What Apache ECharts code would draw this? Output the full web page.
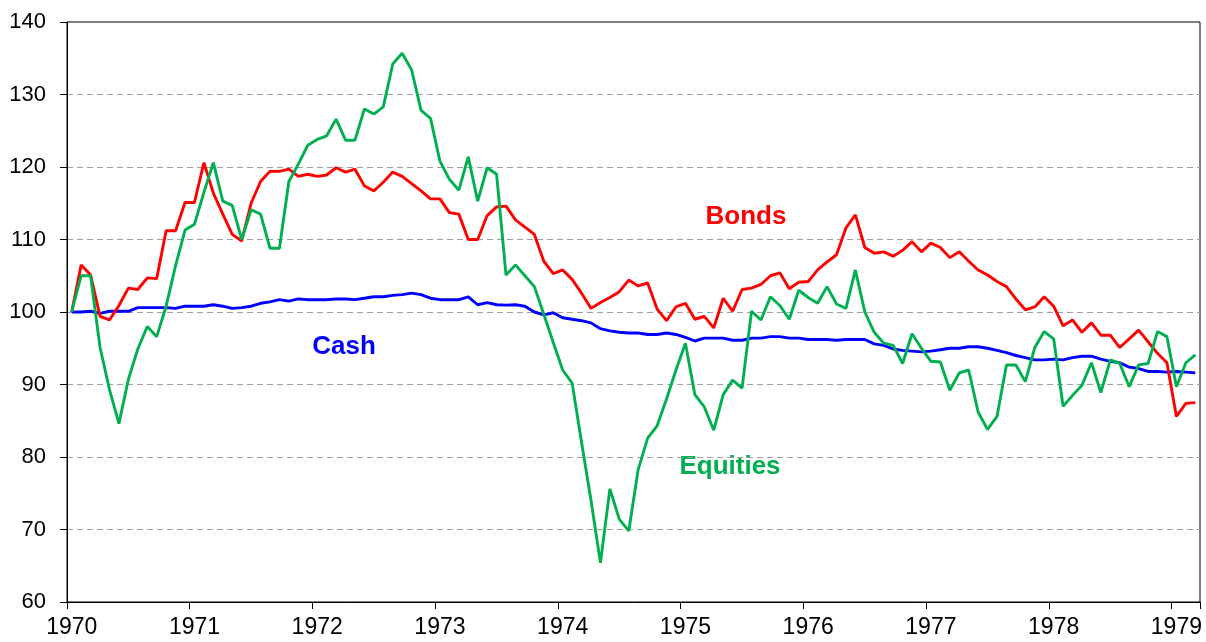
<!DOCTYPE html>
<html>
<head>
<meta charset="utf-8">
<script src="https://cdn.jsdelivr.net/npm/echarts@6/dist/echarts.min.js"></script>
<style>
  html, body { margin: 0; padding: 0; background: #fff; }
  #main { width: 1206px; height: 642px; }
</style>
</head>
<body>
<div id="main"></div>
<script>
  // 13 periods a year (4-weekly), Jan 1970 .. early 1979
  var startYear = 1970;
  var perYear = 13;
  var yTicks = [60, 70, 80, 90, 100, 110, 120, 130, 140];

  var cash = [
    100, 100, 100.1, 99.8, 100.1, 100.1, 100.1, 100.6, 100.6, 100.6, 100.6, 100.5, 100.8,
    100.8, 100.8, 101.0, 100.8, 100.5, 100.6, 100.8, 101.2, 101.4, 101.7, 101.5, 101.8, 101.7, 101.7,
    101.7, 101.8, 101.8, 101.7, 101.9, 102.1, 102.1, 102.3, 102.4, 102.6, 102.4, 101.9, 101.7,
    101.7, 101.7, 102.1, 101.0, 101.3, 101.0, 100.95, 101.0, 100.8, 100.0, 99.6, 99.9,
    99.2, 99.0, 98.8, 98.5, 97.7, 97.4, 97.2, 97.1, 97.1, 96.9, 96.9, 97.1, 96.9, 96.5, 96.0,
    96.4, 96.4, 96.4, 96.1,
    96.1, 96.4, 96.4, 96.6, 96.6, 96.4, 96.4, 96.2, 96.2, 96.2, 96.1, 96.2, 96.2, 96.2, 95.6,
    95.4, 94.9, 94.7, 94.6, 94.5, 94.6, 94.8, 95.0, 95.0,
    95.2, 95.2, 95.0, 94.7, 94.4, 94.0, 93.7, 93.4, 93.4, 93.5, 93.4, 93.7, 93.9, 93.9, 93.5,
    93.2, 93.0, 92.4, 92.2, 91.8, 91.8, 91.7, 91.8, 91.7, 91.6
  ];

  var bonds = [
    100, 106.5, 105.1, 99.4, 98.9, 100.9, 103.3, 103.1, 104.7, 104.6, 111.2, 111.2, 115.1,
    115.1, 120.6, 116.4, 113.5, 110.7, 109.8, 115.0, 118.0, 119.4, 119.4, 119.7, 118.7, 119.0, 118.7,
    118.9, 119.9, 119.3, 119.7, 117.4, 116.7, 117.9, 119.3, 118.7, 117.7, 116.7, 115.6, 115.6,
    113.7, 113.5, 110.0, 110.0, 113.3, 114.5, 114.6, 112.7, 111.7, 110.7, 107.0, 105.3,
    105.8, 104.5, 102.6, 100.5, 101.3, 102.0, 102.8, 104.4, 103.6, 104.0, 100.4, 98.8, 100.7,
    101.2, 99.0, 99.4, 97.8, 101.9, 100.1,
    103.1, 103.3, 103.8, 105.0, 105.4, 103.2, 104.1, 104.2, 105.8, 106.9, 107.9, 111.6, 113.4,
    108.9, 108.1, 108.3, 107.7, 108.5, 109.7, 108.3, 109.5, 108.9, 107.5, 108.3,
    107.0, 105.8, 105.1, 104.2, 103.5, 101.8, 100.3, 100.7, 102.1, 100.8, 98.1, 98.9, 97.2,
    98.5, 96.8, 96.8, 95.1, 96.3, 97.5, 95.9, 94.3, 93.0, 85.6, 87.4, 87.5
  ];

  var equities = [
    100, 105.0, 105.0, 95.1, 89.3, 84.6, 90.7, 94.9, 98.0, 96.6, 100.8, 106.4, 111.3,
    112.1, 116.5, 120.6, 115.3, 114.7, 110.0, 114.1, 113.5, 108.8, 108.8, 118.0, 120.4, 123.0, 123.8,
    124.3, 126.6, 123.7, 123.7, 128.0, 127.3, 128.3, 134.2, 135.7, 133.4, 127.8, 126.7, 120.8,
    118.3, 116.8, 121.4, 115.3, 119.9, 119.0, 105.1, 106.5, 105.0, 103.5, 99.7, 95.8,
    92.0, 90.2, 82.0, 74.0, 65.4, 75.6, 71.4, 69.8, 78.3, 82.6, 84.3, 88.0, 92.0, 95.7, 88.6,
    86.9, 83.7, 88.6, 90.6,
    89.5, 100.1, 98.9, 102.1, 100.9, 99.0, 103.0, 102.0, 101.2, 103.5, 101.1, 100.5, 105.8,
    100.0, 97.2, 95.7, 95.4, 92.9, 97.0, 95.0, 93.2, 93.1, 89.2, 91.6,
    92.0, 86.2, 83.8, 85.6, 92.7, 92.7, 90.4, 95.1, 97.3, 96.3, 87.0, 88.5, 89.9,
    93.0, 88.9, 93.4, 92.9, 89.7, 92.7, 92.9, 97.3, 96.6, 89.7, 93.0, 94.1
  ];

  // category names "1970-1" .. ; only the first period of a year gets a label
  var periods = [];
  for (var i = 0; i < cash.length; i++) {
    periods.push((startYear + Math.floor(i / perYear)) + '-' + (i % perYear + 1));
  }

  var chart = echarts.init(document.getElementById('main'));

  var lineSeries = function (name, data, color) {
    return {
      name: name,
      type: 'line',
      data: data,
      symbol: 'none',
      smooth: false,
      lineStyle: { color: color, width: 2.9 },
      itemStyle: { color: color },
      animation: false
    };
  };

  var label = function (text, x, y, color) {
    return {
      type: 'text',
      x: x,
      y: y,
      style: {
        text: text,
        fill: color,
        font: 'bold 26px "Liberation Sans", Arial, sans-serif',
        align: 'center',
        verticalAlign: 'middle'
      }
    };
  };

  chart.setOption({
    animation: false,
    backgroundColor: '#fff',
    grid: {
      left: 67, right: 6, top: 22, bottom: 40,
      show: true,
      borderColor: '#000',
      borderWidth: 1
    },
    xAxis: {
      type: 'category',
      data: periods,
      boundaryGap: true,
      axisLine: { show: true, lineStyle: { color: '#000', width: 1 } },
      axisTick: {
        show: true,
        interval: perYear - 1,
        alignWithLabel: false,
        length: 7,
        lineStyle: { color: '#000', width: 1 }
      },
      axisLabel: {
        interval: perYear - 1,
        margin: 14,
        color: '#000',
        fontSize: 23,
        fontFamily: '"Liberation Sans", Arial, sans-serif',
        formatter: function (v) { return v.split('-')[0]; }
      },
      splitLine: { show: false }
    },
    yAxis: {
      type: 'value',
      min: yTicks[0],
      max: yTicks[yTicks.length - 1],
      interval: 10,
      axisLine: { show: true, lineStyle: { color: '#000', width: 1 } },
      axisTick: { show: true, length: 7, lineStyle: { color: '#000' } },
      axisLabel: {
        margin: 21,
        color: '#000',
        fontSize: 22,
        fontFamily: '"Liberation Sans", Arial, sans-serif'
      },
      splitLine: {
        show: true,
        showMinLine: false,
        showMaxLine: false,
        lineStyle: { color: '#a0a0a0', type: [6, 4], width: 1 }
      }
    },
    series: [
      lineSeries('Cash', cash, '#0000ff'),
      lineSeries('Bonds', bonds, '#ff0000'),
      lineSeries('Equities', equities, '#00b050')
    ],
    graphic: [
      label('Bonds', 746, 217, '#ff0000'),
      label('Cash', 344, 347, '#0000ff'),
      label('Equities', 730, 467, '#00b050')
    ]
  });
</script>
</body>
</html>
